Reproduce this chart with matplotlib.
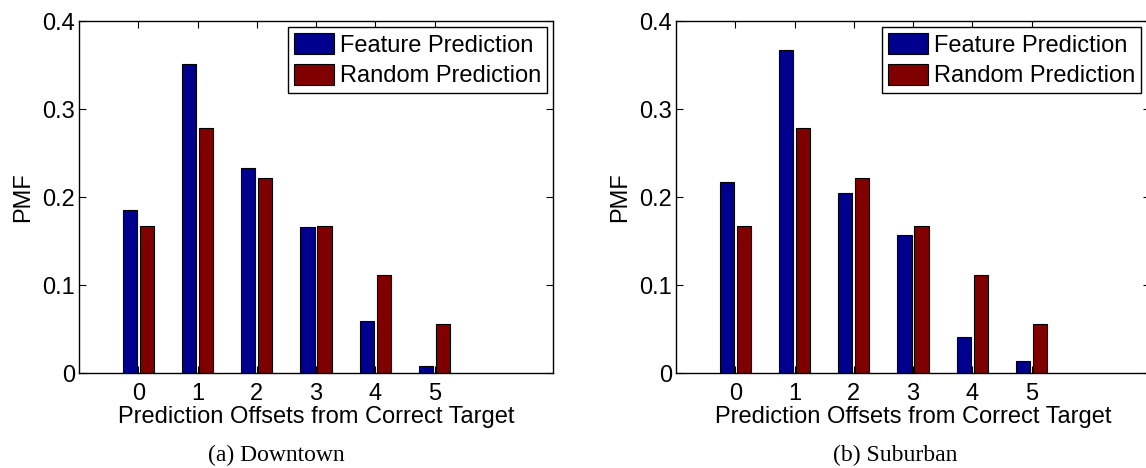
"""PMF of prediction offsets, downtown vs suburban (two panels)."""

import numpy as np
import matplotlib.pyplot as plt

plt.rcParams.update({
    "font.family": ["Liberation Sans", "DejaVu Sans"],
    "font.size": 17,
    "axes.linewidth": 1.0,
})

offsets = [0, 1, 2, 3, 4, 5]
series_names = ["Feature Prediction", "Random Prediction"]
colors = ["#00008F", "#800000"]

downtown_feature = [0.185, 0.351, 0.233, 0.166, 0.059, 0.008]
downtown_random = [0.167, 0.278, 0.222, 0.167, 0.111, 0.056]
suburban_feature = [0.217, 0.367, 0.205, 0.157, 0.041, 0.014]
suburban_random = [0.167, 0.278, 0.222, 0.167, 0.111, 0.056]

yticks = [0, 0.1, 0.2, 0.3, 0.4]
ytick_labels = ["0", "0.1", "0.2", "0.3", "0.4"]
captions = ["(a) Downtown", "(b) Suburban"]

W, H = 1146, 468
fig = plt.figure(figsize=(W / 100, H / 100), dpi=100)

# axes boxes in pixels (left, bottom-from-top, width, height); right panel runs off the edge
boxes = [(79, 373, 474, 352), (676, 373, 474, 352)]
legend_right = [547, 1141]
caption_x = [276, 895]

panels = [(downtown_feature, downtown_random), (suburban_feature, suburban_random)]
x = np.array(offsets)
w = 0.24

for k, (feat, rand) in enumerate(panels):
    l, b, aw, ah = boxes[k]
    ax = fig.add_axes([l / W, (H - b) / H, aw / W, ah / H])
    ax.bar(x - 0.145, feat, w, color=colors[0], edgecolor="black", linewidth=0.8,
           label=series_names[0])
    ax.bar(x + 0.145, rand, w, color=colors[1], edgecolor="black", linewidth=0.8,
           label=series_names[1])
    ax.set_xlim(-1, 7)
    ax.set_ylim(0, 0.4)
    ax.set_xticks(offsets)
    ax.set_yticks(yticks); ax.set_yticklabels(ytick_labels)
    ax.tick_params(direction="in", length=5, width=0.8, top=True, right=True)
    ax.tick_params(axis="x", pad=7)
    ax.tick_params(axis="y", pad=3)
    ax.set_xlabel("Prediction Offsets from Correct Target", labelpad=1)
    ax.set_ylabel("PMF", labelpad=6)

    # legend anchored in figure pixels at its upper-right corner
    ax.legend(loc="upper right",
              bbox_to_anchor=(legend_right[k] / W, (H - 27) / H),
              bbox_transform=fig.transFigure,
              fancybox=False, edgecolor="black", framealpha=1,
              borderpad=0.25, labelspacing=0.3, handlelength=1.7,
              handleheight=1.0, handletextpad=0.25, borderaxespad=0)

    fig.text(caption_x[k] / W, (H - 461) / H, captions[k], ha="center",
             va="baseline", family=["Liberation Serif", "DejaVu Serif"], fontsize=17)

fig.savefig("out.png", dpi=100)
